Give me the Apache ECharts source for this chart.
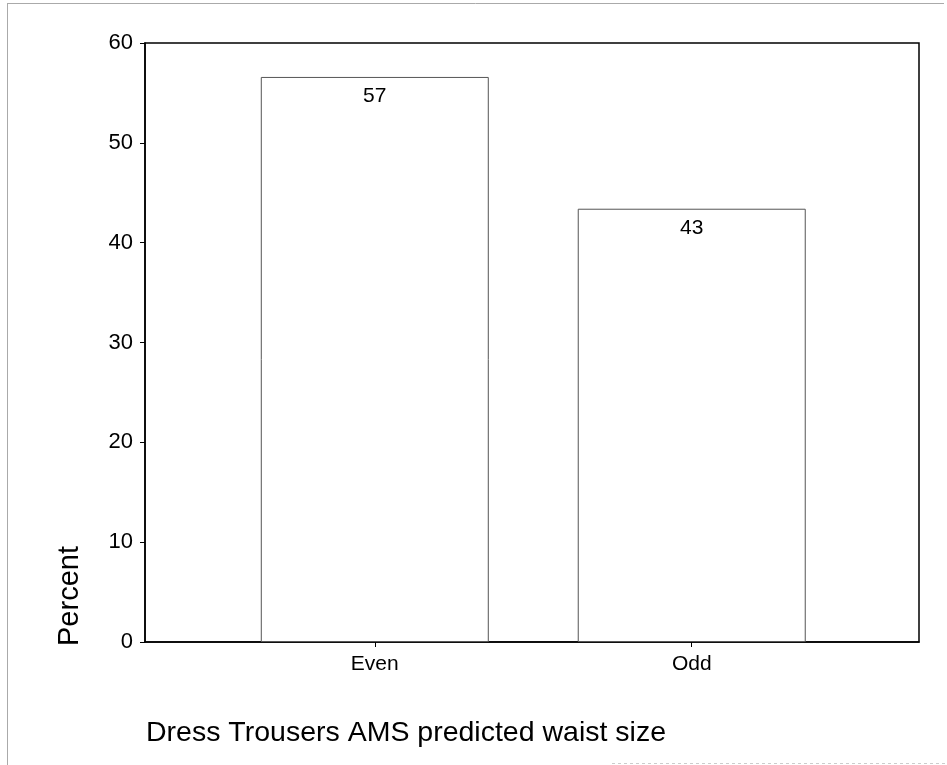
<!DOCTYPE html>
<html>
<head>
<meta charset="utf-8">
<script src="https://cdn.jsdelivr.net/npm/echarts@6/dist/echarts.min.js"></script>
<style>
  html, body { margin: 0; padding: 0; background: #fff; }
  #chart { width: 947px; height: 765px; }
</style>
</head>
<body>
<div id="chart"></div>
<script>
// data
var categories = ["Even", "Odd"];
var percents = [56.6, 43.4];
var yTicks = [0, 10, 20, 30, 40, 50, 60];

var myChart = echarts.init(document.getElementById("chart"));

var font = "Arial, 'Liberation Sans', Helvetica, sans-serif";

var option = {
  animation: false,
  backgroundColor: "#fff",
  title: {
    text: "Dress Trousers AMS predicted waist size",
    left: 146,
    top: 719,
    padding: 0,
    textStyle: {
      fontFamily: font,
      fontSize: 28.5,
      fontWeight: "normal",
      color: "#000",
    },
  },
  graphic: [
    // scanned page border (top, left, part of bottom)
    { type: "line", shape: { x1: 7, y1: 3.5, x2: 944, y2: 3.5 }, style: { stroke: "#aaa", lineWidth: 1 } },
    { type: "line", shape: { x1: 7.5, y1: 3, x2: 7.5, y2: 765 }, style: { stroke: "#aaa", lineWidth: 1 } },
    { type: "line", shape: { x1: 612, y1: 763.5, x2: 947, y2: 763.5 }, style: { stroke: "#ccc", lineWidth: 1, lineDash: [3, 3] } },
    {
      type: "text",
      x: 70,
      y: 596,
      rotation: Math.PI / 2,
      style: {
        text: "Percent",
        fontFamily: font,
        fontSize: 29,
        fill: "#000",
        align: "center",
        verticalAlign: "middle",
      },
    },
  ],
  grid: {
    left: 145,
    right: 28,
    top: 43,
    bottom: 123,
    show: true,
    borderColor: "#000",
    borderWidth: 1.5,
    backgroundColor: "transparent",
  },
  xAxis: {
    type: "value",
    min: -0.725,
    max: 1.717,
    splitLine: { show: false },
    axisLine: { show: true, onZero: false, lineStyle: { color: "#000", width: 1.5 } },
    axisTick: {
      show: true,
      customValues: [0, 1],
      length: 5,
      lineStyle: { color: "#000" },
    },
    axisLabel: {
      customValues: [0, 1],
      formatter: function (v) {
        return categories[Math.round(v)];
      },
      margin: 12,
      fontFamily: font,
      fontSize: 21,
      color: "#000",
    },
  },
  yAxis: {
    type: "value",
    min: 0,
    max: 60,
    interval: 10,
    splitLine: { show: false },
    axisLine: { show: true, onZero: false, lineStyle: { color: "#000", width: 1.5 } },
    axisTick: { show: true, length: 5, lineStyle: { color: "#000" } },
    axisLabel: {
      margin: 12,
      fontFamily: font,
      fontSize: 22,
      color: "#000",
      formatter: function (v) {
        return yTicks.indexOf(v) >= 0 ? String(v) : "";
      },
    },
  },
  series: [
    {
      type: "bar",
      barWidth: 228,
      data: percents.map(function (p, i) {
        return [i, p];
      }),
      itemStyle: {
        color: "#fff",
        borderColor: "#555",
        borderWidth: 1,
      },
      label: {
        show: true,
        position: "insideTop",
        distance: 9,
        fontFamily: font,
        fontSize: 21,
        color: "#000",
        formatter: function (params) {
          return Math.round(params.value[1]);
        },
      },
    },
  ],
};

option && myChart.setOption(option);
</script>
</body>
</html>
